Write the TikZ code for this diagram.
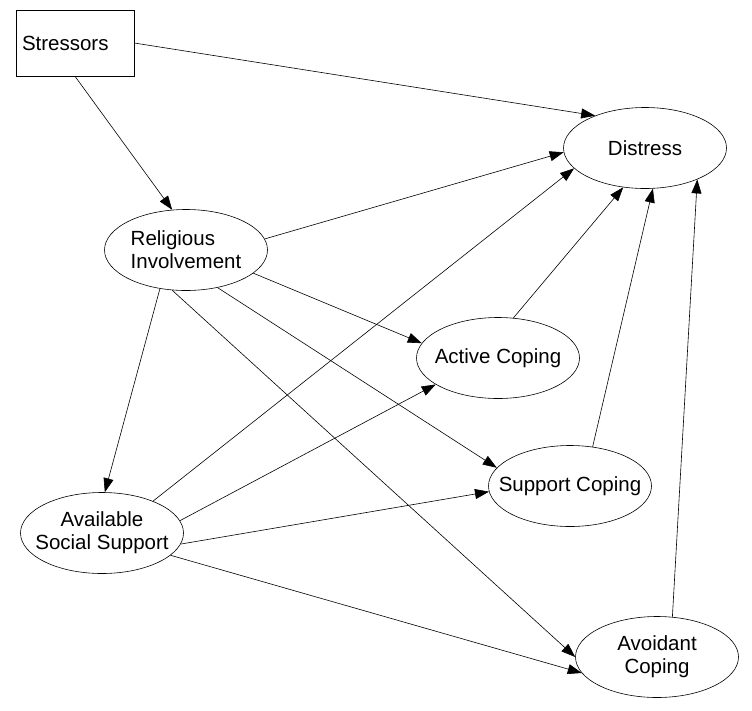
\documentclass[tikz,border=0pt]{standalone}
\usepackage{fontspec}
\setmainfont{Liberation Sans}
\usetikzlibrary{shapes.geometric,arrows.meta}

\begin{document}
\begin{tikzpicture}[x=1pt,y=-1pt,
    font=\fontsize{20.5}{23}\selectfont,
    latent/.style={draw,ellipse,minimum width=163pt,minimum height=81pt,
      inner sep=-20pt,line width=0.6pt},
    observed/.style={draw,rectangle,minimum width=118pt,minimum height=66pt,
      inner xsep=6pt,text width=106pt,align=left,line width=0.6pt},
    effect/.style={-{Triangle[length=14pt,width=10pt]},line width=0.6pt}]
  \useasboundingbox (0,0) rectangle (752,710);

  \node[observed] (stress) at (75,43) {Stressors};
  \node[latent] (distress) at (645,148) {Distress};
  \node[latent,align=left] (relig) at (186,250) {Religious\\Involvement};
  \node[latent] (active) at (498,358) {Active Coping};
  \node[latent] (support) at (570,486) {Support Coping};
  \node[latent,align=center] (social) at (102,533) {Available\\Social Support};
  \node[latent,align=center] (avoid) at (657,657) {Avoidant\\Coping};

  \draw[effect] (stress.east)  -- (distress.147);
  \draw[effect] (stress.south) -- (relig.109);

  \draw[effect] (relig.8)   -- (distress.183);
  \draw[effect] (relig.236) -- (social.86);
  \draw[effect] (relig.341) -- (active.169);
  \draw[effect] (relig.310) -- (support.166);
  \draw[effect] (relig.251) -- (avoid.180);

  \draw[effect] (social.32)  -- (distress.196);
  \draw[effect] (social.9)   -- (active.203);
  \draw[effect] (social.352) -- (support.184);
  \draw[effect] (social.342) -- (avoid.192);

  \draw[effect] (active.69)  -- (distress.241);
  \draw[effect] (support.60) -- (distress.281);
  \draw[effect] (avoid.69)   -- (distress.329);
\end{tikzpicture}
\end{document}
